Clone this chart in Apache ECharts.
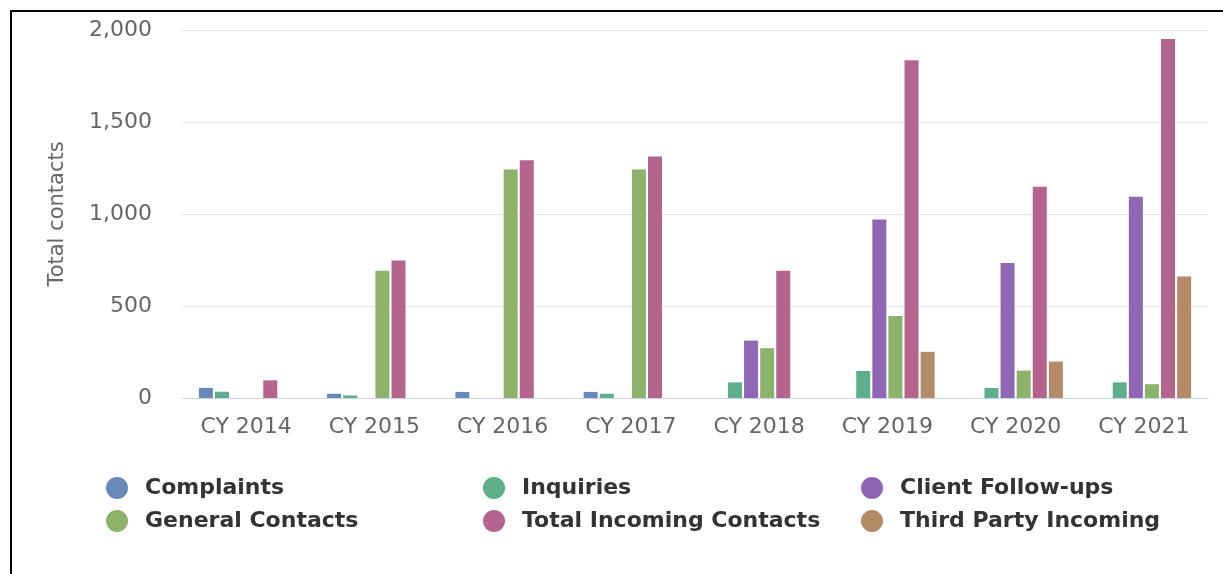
<!DOCTYPE html>
<html>
<head>
<meta charset="utf-8">
<script src="https://cdn.jsdelivr.net/npm/echarts@6/dist/echarts.min.js"></script>
<style>
  html, body { margin: 0; padding: 0; background: #fff; overflow: hidden; }
  #main { width: 1223px; height: 574px; }
  #frame { position: absolute; left: 10px; top: 10px; width: 1300px; height: 700px;
           border: 2px solid #000; pointer-events: none; }
</style>
</head>
<body>
<div id="main"></div>
<div id="frame"></div>
<script>
// data
var years = ["CY 2014", "CY 2015", "CY 2016", "CY 2017", "CY 2018", "CY 2019", "CY 2020", "CY 2021"];
var complaints       = [55, 23, 33, 33, 0, 0, 0, 0];
var inquiries        = [34, 14, 0, 23, 85, 147, 54, 85];
var clientFollowUps  = [0, 0, 0, 0, 312, 970, 734, 1094];
var generalContacts  = [0, 692, 1242, 1242, 271, 445, 149, 75];
var totalIncoming    = [96, 747, 1292, 1313, 692, 1836, 1148, 1951];
var thirdParty       = [0, 0, 0, 0, 0, 251, 198, 661];

var seriesNames = ["Complaints", "Inquiries", "Client Follow-ups",
                   "General Contacts", "Total Incoming Contacts", "Third Party Incoming"];
var seriesData = [complaints, inquiries, clientFollowUps, generalContacts, totalIncoming, thirdParty];
var colors = ["#6689b8", "#5dae8b", "#9067b5", "#8cb369", "#b5648d", "#b38b67"];

var font = "DejaVu Sans";

// legend laid out as 3 columns x 2 rows
var legendPos = [[106, 477], [483, 477], [861, 477], [106, 510], [483, 510], [861, 510]];
var legends = seriesNames.map(function (name, i) {
  return {
    data: [name],
    left: legendPos[i][0],
    top: legendPos[i][1],
    padding: 0,
    icon: "circle",
    itemWidth: 22,
    itemHeight: 22,
    textStyle: { fontFamily: font, fontSize: 22, fontWeight: "bold", color: "#333", padding: [2, 0, 0, 12] }
  };
});

var series = seriesNames.map(function (name, i) {
  return {
    name: name,
    type: "bar",
    data: seriesData[i],
    barWidth: 14,
    barGap: "15%",
    itemStyle: { color: colors[i] }
  };
});

var option = {
  animation: false,
  color: colors,
  grid: { left: 182, right: 15, top: 30, bottom: 176, containLabel: false },
  legend: legends,
  xAxis: {
    type: "category",
    data: years,
    axisLine: { lineStyle: { color: "#ccd6eb", width: 1 } },
    axisTick: { show: false },
    axisLabel: { fontFamily: font, fontSize: 22, color: "#666", margin: 18 }
  },
  yAxis: {
    type: "value",
    min: 0,
    max: 2000,
    interval: 500,
    name: "Total contacts",
    nameLocation: "middle",
    nameGap: 114,
    nameTextStyle: { fontFamily: font, fontSize: 21, color: "#666" },
    axisLabel: {
      fontFamily: font, fontSize: 22, color: "#666", margin: 30, padding: [6, 0, 0, 0],
      formatter: function (v) { return v.toLocaleString("en"); }
    },
    splitLine: { lineStyle: { color: "#e6e6e6" } }
  },
  series: series
};

var chartDom = document.getElementById("main");
var myChart = echarts.init(chartDom);
myChart.setOption(option);
</script>
</body>
</html>
